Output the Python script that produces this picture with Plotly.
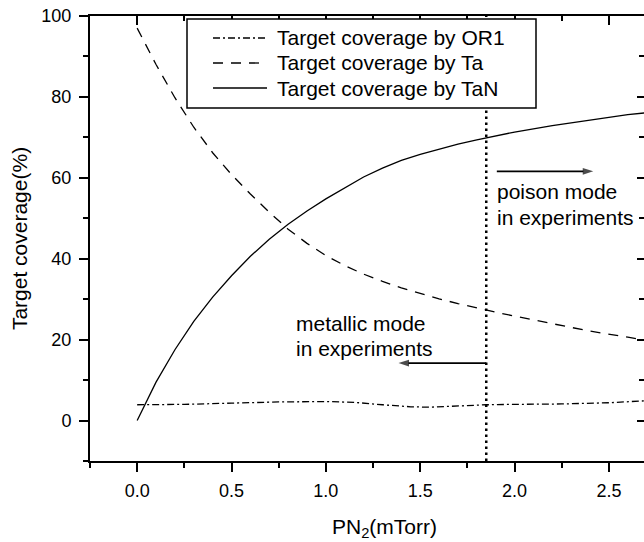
import plotly.graph_objects as go

# N2 partial pressure (mTorr) and target coverage (%) for each species
p_tan = [0.0, 0.05, 0.1, 0.2, 0.3, 0.4, 0.5, 0.6, 0.7, 0.8, 0.9, 1.0, 1.1, 1.2, 1.3,
         1.4, 1.5, 1.6, 1.7, 1.8, 1.9, 2.0, 2.2, 2.4, 2.6, 2.7]
cov_tan = [0.0, 4.8, 9.5, 17.5, 24.5, 30.5, 35.8, 40.6, 44.8, 48.5, 51.8, 54.8, 57.6,
           60.2, 62.4, 64.3, 65.8, 67.1, 68.3, 69.4, 70.4, 71.3, 72.9, 74.3, 75.6, 76.1]

p_ta = [0.0, 0.1, 0.2, 0.3, 0.4, 0.5, 0.6, 0.7, 0.8, 0.9, 1.0, 1.1, 1.2, 1.3, 1.4,
        1.5, 1.6, 1.7, 1.8, 1.9, 2.0, 2.2, 2.4, 2.6, 2.7]
cov_ta = [97.0, 88.0, 79.8, 72.5, 66.2, 60.8, 56.0, 51.5, 47.3, 43.8, 40.8, 38.3, 36.2,
          34.4, 32.8, 31.4, 30.1, 28.9, 27.8, 26.8, 25.8, 23.9, 22.1, 20.6, 19.8]

p_or1 = [0.0, 0.25, 0.5, 0.75, 1.0, 1.15, 1.3, 1.45, 1.55, 1.7, 1.85, 2.0, 2.25, 2.5, 2.7]
cov_or1 = [3.9, 4.0, 4.3, 4.6, 4.7, 4.5, 3.9, 3.4, 3.3, 3.6, 3.9, 4.0, 4.1, 4.4, 4.9]

# boundary between metallic and poison mode observed in experiments
p_transition = 1.85

# direction arrows: (start pressure, end pressure, coverage level)
poison_arrow = (1.906, 2.417, 61.6)
metallic_arrow = (1.85, 1.385, 14.2)

legend_names = ["Target coverage by OR1", "Target coverage by Ta", "Target coverage by TaN"]
x_tick_vals = [0.0, 0.5, 1.0, 1.5, 2.0, 2.5]
x_tick_text = ["0.0", "0.5", "1.0", "1.5", "2.0", "2.5"]
x_minor_vals = [-0.25, 0.25, 0.75, 1.25, 1.75, 2.25]
y_tick_vals = [0, 20, 40, 60, 80, 100]
y_tick_text = ["0", "20", "40", "60", "80", "100"]
y_minor_vals = [-10, 10, 30, 50, 70, 90]

X_RANGE = [-0.25, 2.686]
Y_RANGE = [-10, 100]

W, H = 644, 542
ML, MR, MT, MB = 90, 0, 16, 81
FONT = "Liberation Sans, Arial, sans-serif"

DASH_OR1 = "7px,3px,2px,3px"
DASH_TA = "10px,8px"


def paper_x(px):
    return (px - ML) / (W - ML - MR)


def paper_y(py):
    return (H - MB - py) / (H - MT - MB)


fig = go.Figure()

fig.add_trace(go.Scatter(x=p_or1, y=cov_or1, mode="lines", name=legend_names[0],
                         line=dict(color="black", width=1.3, dash=DASH_OR1)))
fig.add_trace(go.Scatter(x=p_ta, y=cov_ta, mode="lines", name=legend_names[1],
                         line=dict(color="black", width=1.3, dash=DASH_TA)))
fig.add_trace(go.Scatter(x=p_tan, y=cov_tan, mode="lines", name=legend_names[2],
                         line=dict(color="black", width=1.3)))
fig.add_trace(go.Scatter(x=[p_transition, p_transition], y=Y_RANGE, mode="lines",
                         line=dict(color="black", width=2.5, dash="2.5px,3.5px"),
                         showlegend=False))

# arrows drawn as a line ending in an arrow marker
for x0, x1, yv in (poison_arrow, metallic_arrow):
    fig.add_trace(go.Scatter(x=[x0, x1], y=[yv, yv], mode="lines+markers",
                             line=dict(color="black", width=1.8),
                             marker=dict(symbol="arrow", size=[0, 11], angleref="previous",
                                         color="black", line=dict(width=0)),
                             showlegend=False, hoverinfo="skip"))

# empty trace so the mirrored top/right axes are drawn
fig.add_trace(go.Scatter(x=[], y=[], xaxis="x2", yaxis="y2", showlegend=False))

axis_common = dict(showgrid=False, zeroline=False, showline=True, linecolor="black",
                   linewidth=2, tickcolor="black", tickwidth=1.5)

fig.update_layout(
    width=W, height=H,
    margin=dict(l=ML, r=MR, t=MT, b=MB),
    paper_bgcolor="white", plot_bgcolor="white",
    showlegend=False,
    font=dict(family=FONT, color="black"),
    xaxis=dict(range=X_RANGE, tickvals=x_tick_vals, ticktext=x_tick_text,
               ticks="outside", ticklen=9, ticklabelstandoff=3,
               tickfont=dict(size=18, family=FONT),
               minor=dict(tickvals=x_minor_vals, ticks="outside", ticklen=5,
                          tickwidth=1.5, tickcolor="black"),
               **axis_common),
    yaxis=dict(range=Y_RANGE, tickvals=y_tick_vals, ticktext=y_tick_text,
               ticks="outside", ticklen=9, ticklabelstandoff=4,
               tickfont=dict(size=18, family=FONT),
               minor=dict(tickvals=y_minor_vals, ticks="outside", ticklen=5,
                          tickwidth=1.5, tickcolor="black"),
               title=dict(text="Target coverage(%)", font=dict(size=21, family=FONT),
                          standoff=8),
               **axis_common),
    xaxis2=dict(range=X_RANGE, overlaying="x", side="top", anchor="y",
                tickvals=x_tick_vals, showticklabels=False, ticks="inside", ticklen=9,
                minor=dict(tickvals=x_minor_vals, ticks="inside", ticklen=5,
                           tickwidth=1.5, tickcolor="black"),
                **axis_common),
    yaxis2=dict(range=Y_RANGE, overlaying="y", side="right", anchor="x",
                tickvals=y_tick_vals, showticklabels=False, ticks="inside", ticklen=7,
                minor=dict(tickvals=y_minor_vals, ticks="inside", ticklen=5,
                           tickwidth=1.5, tickcolor="black"),
                **axis_common),
)

# x-axis title
fig.add_annotation(xref="paper", yref="paper", x=paper_x(384), y=paper_y(528),
                   xanchor="center", yanchor="middle", showarrow=False,
                   text="PN<sub>2</sub>(mTorr)", font=dict(size=21, family=FONT, color="black"))

# legend box with line samples
legend_left, legend_right, legend_top, legend_bottom = 187, 536, 19, 108
fig.add_shape(type="rect", xref="paper", yref="paper", layer="above",
              x0=paper_x(legend_left), x1=paper_x(legend_right),
              y0=paper_y(legend_bottom), y1=paper_y(legend_top),
              fillcolor="white", line=dict(color="black", width=1.5))
row_y = [38, 63, 88]
row_dash = [DASH_OR1, DASH_TA, "solid"]
for name, ry, dash in zip(legend_names, row_y, row_dash):
    fig.add_shape(type="line", xref="paper", yref="paper", layer="above",
                  x0=paper_x(213), x1=paper_x(267), y0=paper_y(ry), y1=paper_y(ry),
                  line=dict(color="black", width=1.3, dash=dash))
    fig.add_annotation(xref="paper", yref="paper", x=paper_x(275), y=paper_y(ry),
                       xanchor="left", yanchor="middle", showarrow=False, text=name,
                       font=dict(size=21, family=FONT, color="black"))

# mode labels
text_font = dict(size=21, family=FONT, color="black")
for txt, px, py in [("poison mode", 495, 192), ("in experiments", 495, 217),
                    ("metallic mode", 294, 323), ("in experiments", 294, 348)]:
    fig.add_annotation(xref="paper", yref="paper", x=paper_x(px), y=paper_y(py),
                       xanchor="left", yanchor="middle", showarrow=False, text=txt,
                       font=text_font)

fig.write_html("out.html")
